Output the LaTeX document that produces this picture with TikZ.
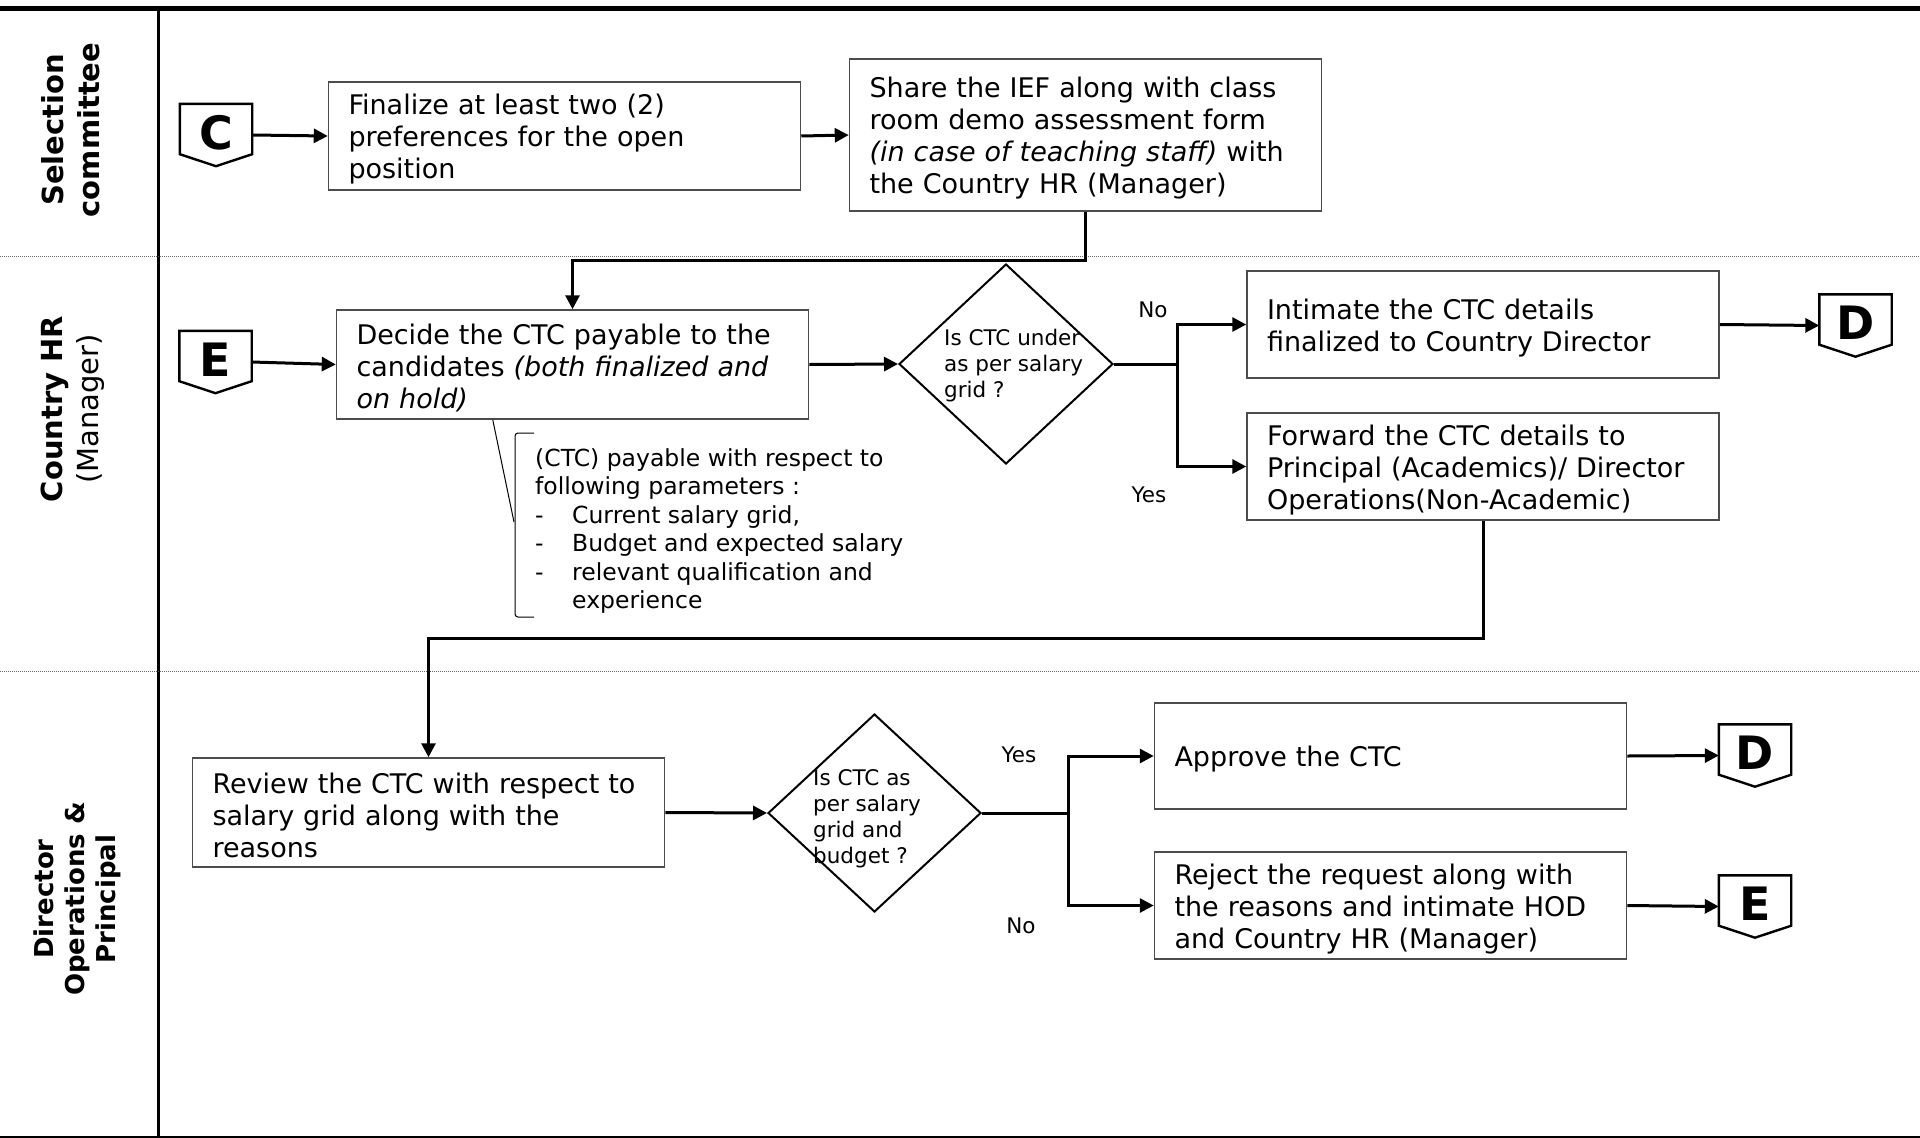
\documentclass[tikz,border=0pt]{standalone}
\usepackage{fontspec}
\setmainfont{DejaVu Sans}
\usetikzlibrary{arrows.meta,calc,shapes.geometric}

\begin{document}
\begin{tikzpicture}[x=1pt,y=-1pt,
  box/.style={draw=black!70, line width=1.5pt, align=left, inner xsep=20pt,
    text width=432pt, minimum width=472pt, font=\fontsize{27}{32}\selectfont,
    execute at begin node={\rule{0pt}{27pt}}},
  flow/.style={line width=3pt, -{Triangle[length=14pt,width=14pt]}},
  plain/.style={line width=3pt},
  decision/.style={diamond, draw, line width=2pt, inner sep=0pt,
    minimum width=214pt, minimum height=200pt},
  conn/.style={inner sep=0pt, minimum width=72pt, minimum height=62pt,
    font=\bfseries\fontsize{46}{46}\selectfont},
  small/.style={font=\fontsize{21.5}{26}\selectfont, align=left, inner sep=0pt},
  lane/.style={rotate=90, align=center, font=\bfseries\fontsize{29}{36}\selectfont},
  sep/.style={densely dotted, draw=black!60, line width=1pt}
]
\useasboundingbox (0,0) rectangle (1920,1138);

% swim-lane frame
\draw[line width=5pt] (0,8.5) -- (1920,8.5);
\draw[line width=2.4pt] (158.5,8) -- (158.5,1138);
\draw[line width=1.2pt] (0,1137) -- (1920,1137);
\draw[sep] (0,256.5) -- (1920,256.5);
\draw[sep] (0,671.5) -- (1920,671.5);

% lane titles
\node[lane] (l1) at (71,130) {Selection\\ committee};
\node[lane] (l2) at (73,409) {Country HR\\ \mdseries (Manager)};
\node[lane, font=\bfseries\fontsize{26}{31}\selectfont] (l3) at (77,899) {Director\\ Operations \&\\ Principal};

% process boxes
\node[box, minimum height=108pt] (b1) at (564.5,136) {Finalize at least two (2)\\ preferences for the open\\ position};
\node[box, minimum height=152pt] (b2) at (1085.5,135) {Share the IEF along with class\\ room demo assessment form\\ \textit{(in case of teaching staff)} with\\ the Country HR (Manager)};
\node[box, minimum height=109pt] (b3) at (572.5,364.5) {Decide the CTC payable to the\\ candidates \textit{(both finalized and}\\ \textit{on hold)}};
\node[box, minimum height=107pt] (b4) at (1483,324.5) {Intimate the CTC details\\ finalized to Country Director};
\node[box, minimum height=107pt] (b5) at (1483,466.5) {Forward the CTC details to\\ Principal (Academics)/ Director\\ Operations(Non-Academic)};
\node[box, minimum height=109pt] (b6) at (428.5,812.5) {Review the CTC with respect to\\ salary grid along with the\\ reasons};
\node[box, minimum height=106pt] (b7) at (1390.5,756) {Approve the CTC};
\node[box, minimum height=107pt] (b8) at (1390.5,905.5) {Reject the request along with\\ the reasons and intimate HOD\\ and Country HR (Manager)};

% decisions
\node[decision] (d1) at (1006,364) {};
\node[decision, minimum width=213pt, minimum height=198pt] (d2) at (874.5,813) {};
\node[small, anchor=west] (q1) at (944,366) {Is CTC under\\ as per salary\\ grid ?};
\node[small, anchor=west] (q2) at (813,819) {Is CTC as\\ per salary\\ grid and\\ budget ?};

% off-page connectors
\node[conn] (cC) at (216,135) {\raisebox{5pt}{C}};
\node[conn] (cE) at (215.5,362) {\raisebox{5pt}{E}};
\node[conn] (cD1) at (1855.5,325.5) {\raisebox{5pt}{D}};
\node[conn] (cD2) at (1755,755.5) {\raisebox{5pt}{D}};
\node[conn] (cE2) at (1755,906.5) {\raisebox{5pt}{E}};
\foreach \n in {cC,cE,cD1,cD2,cE2}
  \draw[line width=2.4pt, line join=miter]
    (\n.north west) -- (\n.north east) -- ($(\n.south east)+(0,-12)$)
    -- (\n.south) -- ($(\n.south west)+(0,-12)$) -- cycle;

% note on the CTC parameters
\node[font=\fontsize{23.5}{28.5}\selectfont, align=left, anchor=west, inner sep=0pt] (note) at (535,531)
  {(CTC) payable with respect to\\ following parameters :\\
   \makebox[37pt][l]{-}Current salary grid,\\
   \makebox[37pt][l]{-}Budget and expected salary\\
   \makebox[37pt][l]{-}relevant qualification and\\
   \hspace*{37pt}experience};
\draw[line width=1pt, rounded corners=3pt] (534,433) -- (515,433) -- (515,617) -- (534,617);
\coordinate (callout) at ($(b3.south west)+(157,0)$);
\draw[line width=1pt] (callout) -- (514,522);

% branch labels
\node[small] (no1) at (1153,310) {No};
\node[small] (yes1) at (1149,495) {Yes};
\node[small] (yes2) at (1019,755) {Yes};
\node[small] (no2) at (1021,926) {No};

% flow
\draw[flow] (cC.east) -- (b1.west);
\draw[flow] (b1.east) -- (b2.west);
\draw[flow] (b2.south) -- ++(0,49) -| (b3.north);
\draw[flow] (cE.east) -- (b3.west);
\draw[flow] (b3.east) -- (d1.west);
\coordinate (j1) at (1177,364);
\draw[plain] (d1.east) -- (j1);
\draw[flow] (j1) |- (b4.west);
\draw[flow] (j1) |- (b5.west);
\draw[flow] (b4.east) -- (cD1.west);
\draw[flow] (b5.south) -- ++(0,118) -| (b6.north);
\draw[flow] (b6.east) -- (d2.west);
\coordinate (j2) at (1068,813);
\draw[plain] (d2.east) -- (j2);
\draw[flow] (j2) |- (b7.west);
\draw[flow] (j2) |- (b8.west);
\draw[flow] (b7.east) -- (cD2.west);
\draw[flow] (b8.east) -- (cE2.west);
\end{tikzpicture}
\end{document}
